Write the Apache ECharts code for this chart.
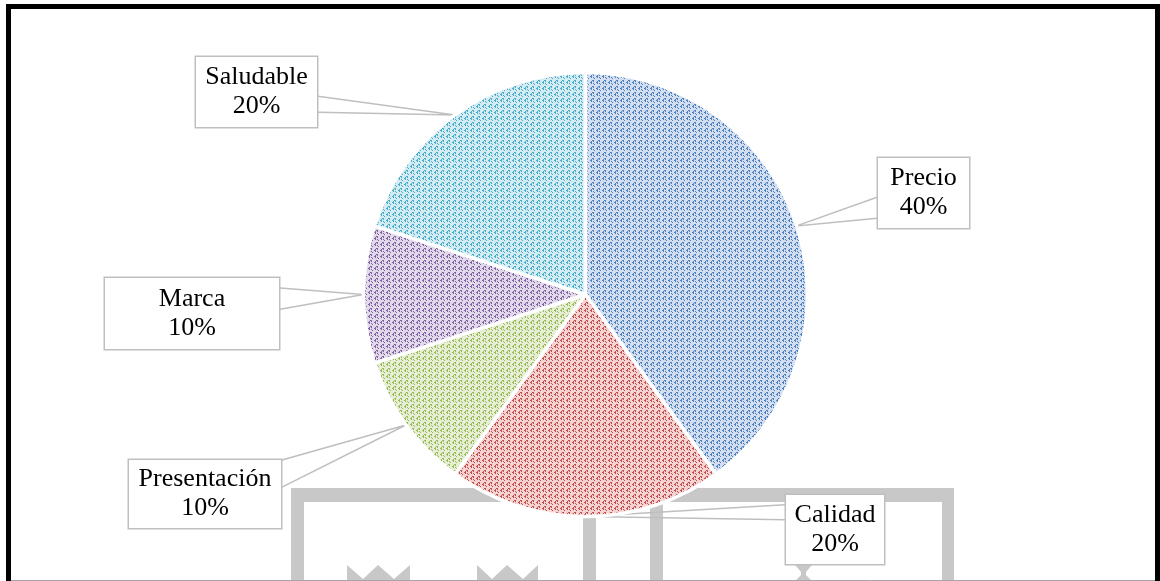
<!DOCTYPE html>
<html>
<head>
<meta charset="utf-8">
<style>
  html, body { margin: 0; padding: 0; background: #ffffff; }
  #chart { width: 1160px; height: 581px; }
</style>
<script src="https://cdn.jsdelivr.net/npm/echarts@6/dist/echarts.min.js"></script>
</head>
<body>
<div id="chart"></div>
<script>
// Factors named by respondents, share of answers (%)
const categories = ['Precio', 'Calidad', 'Presentación', 'Marca', 'Saludable'];
const shares = [40, 20, 10, 10, 20];

// Slice palette: light tint behind, dotted weave in front
const tints = ['#d3dff1', '#f4d3d2', '#e6eed6', '#e1d9ea', '#d3ecf3'];
const inks = ['#4f81bd', '#c0504d', '#9bbb59', '#8064a2', '#4bacc6'];

// Callout boxes: centre, size, and where the pointer leaves the box
const callouts = {
  'Precio':       { cx: 923.5, cy: 193,   w: 93,  h: 70, side: 'left',  f1: 0.56, f2: 0.86 },
  'Calidad':      { cx: 835,   cy: 529.5, w: 100, h: 69, side: 'left',  f1: 0.14, f2: 0.36 },
  'Presentación': { cx: 205,   cy: 494,   w: 154, h: 68, side: 'right', f1: 0.0,  f2: 0.40 },
  'Marca':        { cx: 192,   cy: 313.5, w: 176, h: 71, side: 'right', f1: 0.14, f2: 0.44 },
  'Saludable':    { cx: 256.5, cy: 92,    w: 123, h: 70, side: 'right', f1: 0.56, f2: 0.79 }
};

// Woven dot texture: diagonal dotted strands with small four-dot clusters between them
function weave(tint, ink) {
  const size = 12;
  const c = document.createElement('canvas');
  c.width = size; c.height = size;
  const g = c.getContext('2d');
  g.fillStyle = tint;
  g.fillRect(0, 0, size, size);
  g.fillStyle = ink;
  for (let y = 0; y < size; y++) {
    for (let x = 0; x < size; x++) {
      const strand = ((x + y) % 6 === 0) && (x % 2 === 0);
      const strand2 = ((x + y) % 6 === 1) && (x % 2 === 1) && (y % 3 !== 0);
      const cx = (x + 3) % 6, cy = (y + 3) % 6;
      const cluster = (cx === 0 || cx === 2) && (cy === 0 || cy === 2);
      if (strand || strand2 || cluster) g.fillRect(x, y, 1, 1);
    }
  }
  return { image: c, repeat: 'repeat' };
}

const LINE_H = 29;
const pieData = categories.map((name, i) => {
  const box = callouts[name];
  const pad = (box.h - 2 * LINE_H) / 2;
  return {
    name: name,
    value: shares[i],
    itemStyle: { color: weave(tints[i], inks[i]) },
    label: { width: box.w - 2, padding: [pad + 5, 0, pad - 5, 0] }
  };
});

const GREY = '#c8c8c8';
const watermark = [
  { type: 'rect', shape: { x: 291, y: 488, width: 663, height: 14 } },
  { type: 'rect', shape: { x: 291, y: 488, width: 13, height: 100 } },
  { type: 'rect', shape: { x: 942, y: 488, width: 12, height: 100 } },
  { type: 'rect', shape: { x: 583, y: 500, width: 13, height: 90 } },
  { type: 'rect', shape: { x: 650, y: 500, width: 13, height: 90 } },
  { type: 'polygon', shape: { points: [[347, 565], [363, 579], [378, 565], [394, 579], [410, 565], [410, 590], [347, 590]] } },
  { type: 'polygon', shape: { points: [[477, 565], [492, 579], [507, 565], [523, 579], [538, 565], [538, 590], [477, 590]] } },
  { type: 'polygon', shape: { points: [[795, 565], [812, 565], [806, 572], [806, 575], [812, 581], [795, 581], [801, 575], [801, 572]] } }
].map(el => Object.assign(el, { style: { fill: GREY }, z: -10 }));

const chart = echarts.init(document.getElementById('chart'), null, { renderer: 'canvas' });

chart.setOption({
  backgroundColor: '#ffffff',
  animation: false,
  graphic: watermark.concat([
    { type: 'line', shape: { x1: 11, y1: 580.5, x2: 1157, y2: 580.5 }, style: { stroke: '#a6a6a6', lineWidth: 1 }, z: 50 },
    { type: 'rect', shape: { x: 8.5, y: 6.5, width: 1149, height: 620 }, style: { fill: null, stroke: '#000000', lineWidth: 5 }, z: 60 }
  ]),
  series: [{
    type: 'pie',
    center: [585.5, 294.5],
    radius: 222,
    startAngle: 90,
    clockwise: true,
    avoidLabelOverlap: false,
    itemStyle: { borderColor: '#ffffff', borderWidth: 3.5 },
    emphasis: { disabled: true },
    label: {
      show: true,
      position: 'outside',
      formatter: '{b}\n{c}%',
      fontFamily: '"Liberation Serif", "Times New Roman", serif',
      fontSize: 26,
      lineHeight: LINE_H,
      color: '#000000',
      align: 'center',
      backgroundColor: '#ffffff',
      borderColor: '#bfbfbf',
      borderWidth: 1.5
    },
    labelLine: {
      show: true,
      length: 10,
      length2: 10,
      lineStyle: { color: '#bfbfbf', width: 1.5 }
    },
    labelLayout: function (params) {
      const name = categories[params.dataIndex];
      const box = callouts[name];
      const tip = params.labelLinePoints ? params.labelLinePoints[0] : [box.cx, box.cy];
      const top = box.cy - box.h / 2;
      const ex = box.side === 'left' ? box.cx - box.w / 2 : box.cx + box.w / 2;
      return {
        x: box.cx,
        y: box.cy,
        align: 'center',
        verticalAlign: 'middle',
        labelLinePoints: [
          [ex, top + box.f1 * box.h],
          [tip[0], tip[1]],
          [ex, top + box.f2 * box.h]
        ]
      };
    },
    data: pieData
  }]
});
</script>
</body>
</html>
